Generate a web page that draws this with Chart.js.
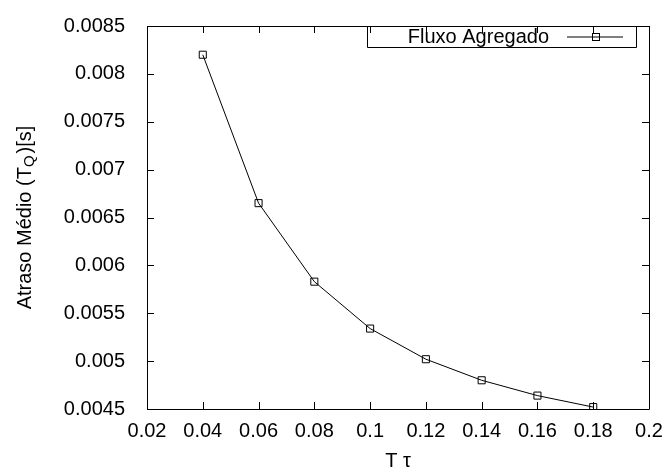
<!DOCTYPE html>
<html>
<head>
<meta charset="utf-8">
<script src="https://cdn.jsdelivr.net/npm/chart.js@4/dist/chart.umd.min.js"></script>
<style>
  html, body { margin: 0; padding: 0; background: #fff; }
</style>
</head>
<body>
<canvas id="chart" width="667" height="473"></canvas>
<script>
// data
const seriesLabel = 'Fluxo Agregado';
const xValues = [0.04, 0.06, 0.08, 0.10, 0.12, 0.14, 0.16, 0.18];
const yValues = [0.00820, 0.00665, 0.00583, 0.00534, 0.00502, 0.00480, 0.00464, 0.00452];

const xTicks = [0.02, 0.04, 0.06, 0.08, 0.1, 0.12, 0.14, 0.16, 0.18, 0.2];
const yTicks = [0.0045, 0.005, 0.0055, 0.006, 0.0065, 0.007, 0.0075, 0.008, 0.0085];

const FONT = '"Liberation Sans", Arial, Helvetica, sans-serif';

// gnuplot style frame: border + inward ticks on all four sides
const framePlugin = {
  id: 'frame',
  afterDraw(chart) {
    const { ctx, chartArea: a, scales } = chart;
    const tick = 7;
    ctx.save();
    ctx.strokeStyle = '#000';
    ctx.lineWidth = 1;
    ctx.beginPath();
    ctx.rect(a.left + 0.5, a.top + 0.5, a.right - a.left, a.bottom - a.top);
    xTicks.forEach(v => {
      const px = Math.round(scales.x.getPixelForValue(v)) + 0.5;
      ctx.moveTo(px, a.bottom); ctx.lineTo(px, a.bottom - tick);
      ctx.moveTo(px, a.top); ctx.lineTo(px, a.top + tick);
    });
    yTicks.forEach(v => {
      const py = Math.round(scales.y.getPixelForValue(v)) + 0.5;
      ctx.moveTo(a.left, py); ctx.lineTo(a.left + tick, py);
      ctx.moveTo(a.right, py); ctx.lineTo(a.right - tick, py);
    });
    ctx.stroke();

    // axis titles
    ctx.fillStyle = '#000';
    ctx.font = '20px ' + FONT;
    ctx.textAlign = 'center';
    ctx.textBaseline = 'middle';
    ctx.fillText('T \u03C4', (a.left + a.right) / 2, 461);

    // y title with subscript Q
    ctx.save();
    ctx.translate(25, (a.top + a.bottom) / 2);
    ctx.rotate(-Math.PI / 2);
    const p1 = 'Atraso M\u00E9dio (T', sub = 'Q', p2 = ')[s]';
    ctx.font = '20px ' + FONT;
    const w1 = ctx.measureText(p1).width, w3 = ctx.measureText(p2).width;
    ctx.font = '15px ' + FONT;
    const w2 = ctx.measureText(sub).width + 2;
    let x0 = -(w1 + w2 + w3) / 2;
    ctx.textAlign = 'left';
    ctx.font = '20px ' + FONT;
    ctx.fillText(p1, x0, 0);
    ctx.font = '15px ' + FONT;
    ctx.fillText(sub, x0 + w1, 5);
    ctx.font = '20px ' + FONT;
    ctx.fillText(p2, x0 + w1 + w2, 0);
    ctx.restore();

    // legend box
    const lx = 367, ly = 26, lw = 269, lh = 21;
    ctx.beginPath();
    ctx.rect(lx + 0.5, ly + 0.5, lw, lh);
    ctx.stroke();
    ctx.font = '20px ' + FONT;
    ctx.textAlign = 'right';
    ctx.fillText(seriesLabel, 549, ly + lh / 2 + 1);
    ctx.beginPath();
    ctx.moveTo(567, ly + lh / 2 + 0.5);
    ctx.lineTo(623, ly + lh / 2 + 0.5);
    ctx.stroke();
    ctx.strokeRect(592.5, ly + lh / 2 - 3, 7, 7);
    ctx.restore();
  }
};

new Chart(document.getElementById('chart'), {
  type: 'scatter',
  data: {
    datasets: [{
      label: seriesLabel,
      data: xValues.map((x, i) => ({ x, y: yValues[i] })),
      showLine: true,
      borderColor: '#000',
      borderWidth: 1,
      pointStyle: 'rect',
      pointRadius: 5,
      pointBorderWidth: 1,
      pointBorderColor: '#000',
      pointBackgroundColor: 'rgba(0,0,0,0)',
      tension: 0
    }]
  },
  options: {
    responsive: false,
    animation: false,
    layout: { padding: { top: 20, right: 18, left: 0, bottom: 0 } },
    plugins: { legend: { display: false }, tooltip: { enabled: false } },
    scales: {
      x: {
        type: 'linear',
        min: 0.02, max: 0.2,
        afterBuildTicks: s => { s.ticks = xTicks.map(v => ({ value: v })); },
        afterFit: s => { s.height = 64; },
        grid: { display: false },
        border: { display: false },
        ticks: {
          color: '#000', padding: 2,
          font: { family: FONT, size: 20 },
          callback: v => String(parseFloat(v.toFixed(4)))
        }
      },
      y: {
        type: 'linear',
        min: 0.0045, max: 0.0085,
        afterBuildTicks: s => { s.ticks = yTicks.map(v => ({ value: v })); },
        afterFit: s => { s.width = 147; },
        grid: { display: false },
        border: { display: false },
        ticks: {
          color: '#000', padding: 14,
          font: { family: FONT, size: 20 },
          callback: v => String(parseFloat(v.toFixed(5)))
        }
      }
    }
  },
  plugins: [framePlugin]
});
</script>
</body>
</html>
